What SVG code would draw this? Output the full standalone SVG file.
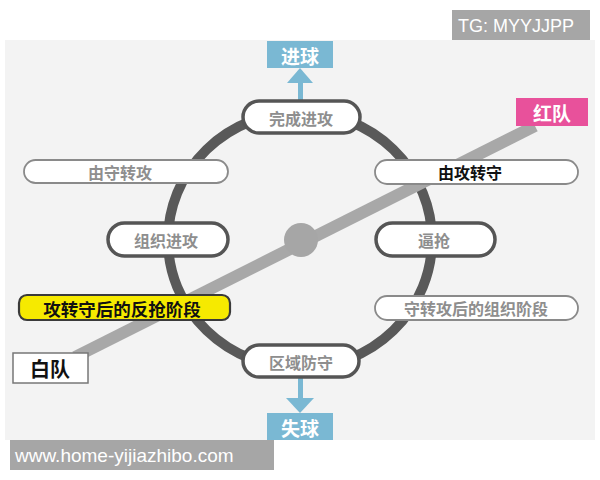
<svg xmlns="http://www.w3.org/2000/svg" width="600" height="480" viewBox="0 0 600 480">
  <style>
    .cjk { font-family: "Noto Sans CJK SC", "Noto Sans", sans-serif; font-weight: bold; text-anchor: middle; dominant-baseline: central; }
    .thick { fill: #ffffff; stroke: #555555; stroke-width: 3.5; }
    .thin { fill: #ffffff; stroke: #8a8a8a; stroke-width: 1.8; }
    .grey { fill: #8e8e8e; font-size: 16px; }
    .dark { fill: #111111; font-size: 16px; }
    .blue { fill: #7ab8d3; }
    .wm { font-family: "Liberation Sans", Arial, sans-serif; fill: #ffffff; }
  </style>
  <rect x="0" y="0" width="600" height="480" fill="#ffffff"/>
  <rect x="5" y="40" width="590" height="400" fill="#f3f3f3"/>

  <g id="connectors">
    <ellipse cx="300" cy="240" rx="132" ry="128" fill="none" stroke="#595959" stroke-width="10"/>
    <line x1="75" y1="357" x2="535" y2="126" stroke="#a8a8a8" stroke-width="12"/>
    <circle cx="301" cy="240" r="17" fill="#a6a6a6"/>
    <rect class="blue" x="298" y="80" width="5" height="22"/>
    <polygon class="blue" points="287,83 313,83 300,68"/>
    <rect class="blue" x="298" y="377" width="5" height="23"/>
    <polygon class="blue" points="286,398 314,398 300,413"/>
  </g>

  <g id="goal">
    <rect class="blue" x="267" y="41" width="66" height="27"/>
    <text class="cjk" x="300" y="55" font-size="19" fill="#ffffff">进球</text>
  </g>
  <g id="concede">
    <rect class="blue" x="267" y="413" width="66" height="27"/>
    <text class="cjk" x="300" y="427" font-size="19" fill="#ffffff">失球</text>
  </g>

  <g id="finish-attack">
    <rect class="thick" x="243" y="101" width="117" height="32" rx="16"/>
    <text class="cjk grey" x="301" y="118">完成进攻</text>
  </g>
  <g id="zone-defense">
    <rect class="thick" x="243" y="345" width="116" height="32" rx="16"/>
    <text class="cjk grey" x="301" y="362">区域防守</text>
  </g>
  <g id="organize-attack">
    <rect class="thick" x="108" y="223" width="120" height="33" rx="16.5"/>
    <text class="cjk grey" x="166" y="240" font-size="17">组织进攻</text>
  </g>
  <g id="press">
    <rect class="thick" x="376" y="223" width="119" height="33" rx="16.5"/>
    <text class="cjk grey" x="434" y="240">逼抢</text>
  </g>
  <g id="def-to-att">
    <rect class="thin" x="24" y="160" width="204" height="23" rx="11.5"/>
    <text class="cjk grey" x="120" y="172">由守转攻</text>
  </g>
  <g id="att-to-def">
    <rect class="thin" x="375" y="160" width="203" height="24" rx="12"/>
    <text class="cjk dark" x="470" y="172">由攻转守</text>
  </g>
  <g id="def-att-organize">
    <rect class="thin" x="375" y="296" width="203" height="24" rx="12"/>
    <text class="cjk grey" x="476" y="308">守转攻后的组织阶段</text>
  </g>
  <g id="counter-press">
    <rect x="19" y="295" width="211" height="25" rx="8" fill="#f6ea00" stroke="#3a3a3a" stroke-width="2.2"/>
    <text class="cjk" x="122" y="308" font-size="17.5" fill="#111111">攻转守后的反抢阶段</text>
  </g>

  <g id="white-team">
    <rect x="13" y="353" width="75" height="30" fill="#ffffff" stroke="#777777" stroke-width="1.5"/>
    <text class="cjk" x="50" y="368" font-size="20" fill="#111111">白队</text>
  </g>
  <g id="red-team">
    <rect x="516" y="98" width="72" height="28" fill="#e8519b"/>
    <text class="cjk" x="552" y="112" font-size="19" fill="#ffffff">红队</text>
  </g>

  <g id="tg-label">
    <rect x="452" y="10" width="138" height="30" fill="#a6a6a6"/>
    <text class="wm" x="458" y="32" font-size="18">TG: MYYJJPP</text>
  </g>
  <g id="site-label">
    <rect x="10" y="440" width="264" height="30" fill="#a6a6a6"/>
    <text class="wm" x="15" y="462" font-size="19">www.home-yijiazhibo.com</text>
  </g>
</svg>
